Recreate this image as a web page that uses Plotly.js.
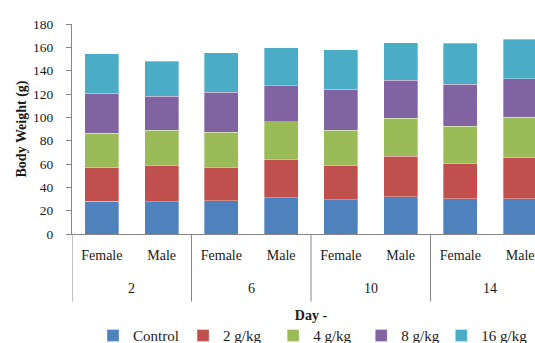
<!DOCTYPE html>
<html>
<head>
<meta charset="utf-8">
<script src="https://cdn.plot.ly/plotly-3.0.1.min.js"></script>
<style>
  html, body { margin: 0; padding: 0; overflow: hidden; background: #fff; }
  #chart { width: 560px; height: 343px; }
</style>
</head>
<body>
<div id="chart"></div>
<script>
// Body weight by day and sex, stacked by dose group
const days = ['2', '6', '10', '14'];
const sexes = ['Female', 'Male'];
const seriesNames = ['Control', '2 g/kg', '4 g/kg', '8 g/kg', '16 g/kg'];
const control = [28.2, 27.6, 28.4, 31.2, 29.3, 32.1, 30.1, 30.4];
const dose2 = [28.6, 31.3, 29.0, 33.0, 29.6, 34.5, 30.7, 35.0];
const dose4 = [29.4, 30.1, 29.9, 31.9, 30.1, 32.6, 31.6, 34.7];
const dose8 = [34.4, 29.0, 34.1, 31.0, 35.2, 32.5, 35.8, 33.0];
const dose16 = [33.8, 29.9, 33.9, 32.5, 33.6, 32.1, 35.3, 33.8];
const yTicks = [0, 20, 40, 60, 80, 100, 120, 140, 160, 180];

const colors = ['#4F81BD', '#C0504D', '#9BBB59', '#8064A2', '#4BACC6'];
const values = [control, dose2, dose4, dose8, dose16];

// one slot per (day, sex) pair, in day order
const slotLabels = [];
days.forEach(() => sexes.forEach(s => slotLabels.push(s)));
const slots = slotLabels.map((_, i) => i);

const serif = 'Liberation Serif, Times New Roman, serif';
const axisGrey = '#868686';
const textColor = '#1a1a1a';

// each series gets its own legend box so the entries can be spaced freely
const legendIds = seriesNames.map((_, k) => (k === 0 ? 'legend' : 'legend' + (k + 1)));
const legendLeft = [0.0440, 0.2324, 0.4208, 0.6051, 0.7726];

const traces = values.map((v, k) => ({
  type: 'bar',
  name: seriesNames[k],
  legend: legendIds[k],
  x: slots,
  y: v,
  width: 0.57,
  marker: { color: colors[k], line: { color: 'rgba(255,255,255,0.55)', width: 0.6 } },
  hoverinfo: 'y+name'
}));

// day labels centred under each sex pair, dividers between the pairs
const annotations = days.map((d, g) => ({
  x: g * sexes.length + (sexes.length - 1) / 2,
  xref: 'x',
  y: -0.26,
  yref: 'paper',
  yanchor: 'middle',
  text: d,
  showarrow: false,
  font: { family: serif, size: 14, color: textColor }
}));

const shapes = [];
for (let g = 0; g <= days.length; g++) {
  shapes.push({
    type: 'line',
    xref: 'x', yref: 'paper',
    x0: g * sexes.length - 0.5, x1: g * sexes.length - 0.5,
    y0: 0, y1: -0.322,
    line: { color: axisGrey, width: 1 }
  });
}

const layout = {
  width: 560,
  height: 343,
  margin: { l: 72, r: 10.4, t: 23.5, b: 108.5, autoexpand: false },
  paper_bgcolor: '#fff',
  plot_bgcolor: '#fff',
  barmode: 'stack',
  showlegend: true,
  font: { family: serif, size: 14, color: textColor },
  xaxis: {
    range: [-0.5, slots.length - 0.5],
    tickvals: slots,
    ticktext: slotLabels,
    showgrid: false,
    zeroline: false,
    showline: true,
    linecolor: axisGrey,
    linewidth: 1,
    ticks: '',
    ticklabelstandoff: 8,
    tickfont: { family: serif, size: 14, color: textColor },
    title: {
      text: '<b>Day -</b>',
      standoff: 48,
      font: { family: serif, size: 14, color: textColor }
    },
    fixedrange: true
  },
  yaxis: {
    range: [0, 180],
    tickvals: yTicks,
    showgrid: false,
    zeroline: false,
    showline: true,
    linecolor: axisGrey,
    linewidth: 1,
    ticks: 'outside',
    ticklen: 5,
    tickcolor: axisGrey,
    ticklabelstandoff: 10,
    tickfont: { family: serif, size: 13.5, color: textColor },
    title: {
      text: '<b>Body Weight (g)</b>',
      standoff: 3,
      font: { family: serif, size: 14, color: textColor }
    },
    fixedrange: true
  },
  annotations: annotations,
  shapes: shapes
};

legendIds.forEach((id, k) => {
  layout[id] = {
    orientation: 'h',
    x: legendLeft[k],
    xanchor: 'left',
    y: -0.484,
    yanchor: 'middle',
    font: { family: serif, size: 15, color: textColor },
    bgcolor: 'rgba(0,0,0,0)'
  };
});

Plotly.newPlot('chart', traces, layout, { displayModeBar: false, staticPlot: true });
</script>
</body>
</html>
